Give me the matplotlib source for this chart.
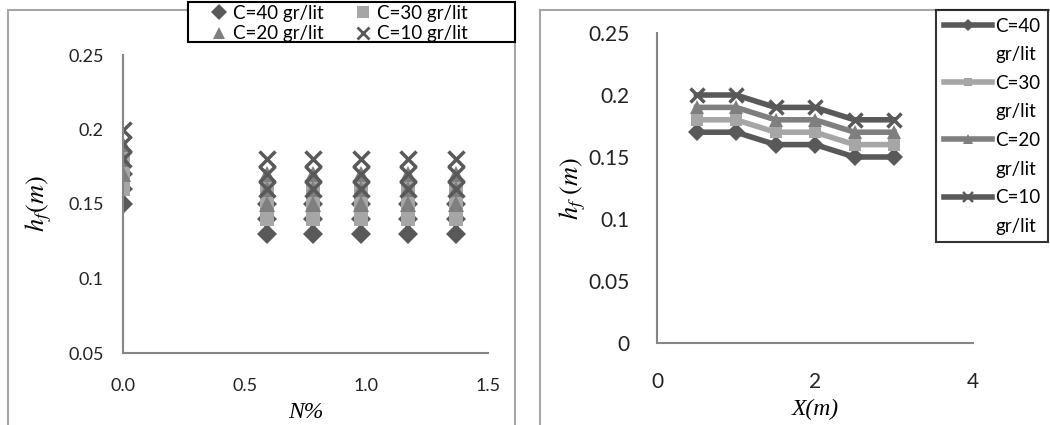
import matplotlib.pyplot as plt
import matplotlib.lines as mlines
from matplotlib.patches import Rectangle

plt.rcParams['font.family'] = ['Lato', 'DejaVu Sans']
plt.rcParams['mathtext.fontset'] = 'stix'

# --- data: left chart, h_f vs N% (three readings per N for each C) ---
n_values = [0.0, 0.59, 0.78, 0.98, 1.17, 1.37]
hf_n = {
    'C=40 gr/lit': [[0.15, 0.16, 0.17], [0.13, 0.14, 0.15], [0.13, 0.14, 0.15],
                    [0.13, 0.14, 0.15], [0.13, 0.14, 0.15], [0.13, 0.14, 0.15]],
    'C=30 gr/lit': [[0.16, 0.17, 0.18], [0.14, 0.15, 0.16], [0.14, 0.15, 0.16],
                    [0.14, 0.15, 0.16], [0.14, 0.15, 0.16], [0.14, 0.15, 0.16]],
    'C=20 gr/lit': [[0.17, 0.18, 0.19], [0.15, 0.16, 0.17], [0.15, 0.16, 0.17],
                    [0.15, 0.16, 0.17], [0.15, 0.16, 0.17], [0.15, 0.16, 0.17]],
    'C=10 gr/lit': [[0.18, 0.19, 0.20], [0.16, 0.17, 0.18], [0.16, 0.17, 0.18],
                    [0.16, 0.17, 0.18], [0.16, 0.17, 0.18], [0.16, 0.17, 0.18]],
}

# --- data: right chart, h_f vs X ---
x_pos = [0.5, 1.0, 1.5, 2.0, 2.5, 3.0]
hf_x = {
    'C=40 gr/lit': [0.17, 0.17, 0.16, 0.16, 0.15, 0.15],
    'C=30 gr/lit': [0.18, 0.18, 0.17, 0.17, 0.16, 0.16],
    'C=20 gr/lit': [0.19, 0.19, 0.18, 0.18, 0.17, 0.17],
    'C=10 gr/lit': [0.20, 0.20, 0.19, 0.19, 0.18, 0.18],
}

# style per series
styles = {
    'C=40 gr/lit': dict(marker='D', color='#595959', ms=10, mew=0),
    'C=30 gr/lit': dict(marker='s', color='#a6a6a6', ms=9.5, mew=0),
    'C=20 gr/lit': dict(marker='^', color='#7f7f7f', ms=11, mew=0),
    'C=10 gr/lit': dict(marker='x', color='#595959', ms=11, mew=2.5),
}

fig = plt.figure(figsize=(10.5, 4.25), dpi=100)
W, H = 1050, 425

# panel frames
fig.add_artist(Rectangle((8 / W, -0.05), (515 - 8) / W, 1.05 - 10 / H,
                         transform=fig.transFigure, fill=False, ec='#a6a6a6', lw=1.5))
fig.add_artist(Rectangle((540 / W, -0.05), 0.6, 1.05 - 10 / H,
                         transform=fig.transFigure, fill=False, ec='#a6a6a6', lw=1.5))

label_font = dict(fontsize=17, family='Liberation Serif', style='italic')


def clean_axes(ax, size):
    for s in ['top', 'right']:
        ax.spines[s].set_visible(False)
    for s in ['left', 'bottom']:
        ax.spines[s].set_color('#868686')
        ax.spines[s].set_linewidth(1.5)
    ax.tick_params(length=0, labelsize=size, colors='#222222')
    ax.tick_params(axis='x', pad=18)
    ax.tick_params(axis='y', pad=14)
    ax.set_facecolor('none')


# --- left chart ---
ax1 = fig.add_axes([123 / W, 1 - 353 / H, (488 - 123) / W, (353 - 55) / H])
for name, vals in hf_n.items():
    st = styles[name]
    for n, hs in zip(n_values, vals):
        ax1.plot([n] * len(hs), hs, linestyle='none', marker=st['marker'],
                 color=st['color'], ms=st['ms'], mew=st['mew'])
ax1.set_xlim(0, 1.5)
ax1.set_ylim(0.05, 0.25)
ax1.set_xticks([0.0, 0.5, 1.0, 1.5])
ax1.set_xticklabels(['0.0', '0.5', '1.0', '1.5'])
ax1.set_yticks([0.05, 0.1, 0.15, 0.2, 0.25])
ax1.set_yticklabels(['0.05', '0.1', '0.15', '0.2', '0.25'])
clean_axes(ax1, 13)
ax1.set_xlabel('N%', labelpad=6, **label_font)
ax1.set_ylabel(r'$h_f(m)$', fontsize=19, labelpad=10)

# left legend: its box is drawn by hand so it can be as wide as in the original
fig.add_artist(Rectangle((188 / W, 1 - 42 / H), (515 - 188) / W, 40 / H,
                         transform=fig.transFigure, fill=True, fc='white',
                         ec='black', lw=1.5, zorder=5))
handles1 = [mlines.Line2D([], [], linestyle='none', marker=styles[k]['marker'],
                          color=styles[k]['color'], ms=styles[k]['ms'] * 0.85,
                          mew=styles[k]['mew'] * 0.8) for k in hf_n]
names = list(hf_n)
order = [0, 2, 1, 3]
leg1 = fig.legend([handles1[i] for i in order], [names[i] for i in order], ncol=2,
                  loc='upper left', bbox_to_anchor=(208 / W, 1 - 1 / H), frameon=False,
                  fontsize=13.5, handlelength=0.8, handletextpad=0.35, columnspacing=1.7,
                  borderpad=0.2, labelspacing=0.2, borderaxespad=0)
leg1.set_zorder(6)

# --- right chart ---
ax2 = fig.add_axes([657 / W, 1 - 343 / H, (973 - 657) / W, (343 - 33) / H])
line_handles = []
for name, vals in hf_x.items():
    st = styles[name]
    ln, = ax2.plot(x_pos, vals, color=st['color'], lw=4, marker=st['marker'],
                   ms=st['ms'] * 0.9, mew=st['mew'])
    line_handles.append(ln)
ax2.set_xlim(0, 4)
ax2.set_ylim(0, 0.25)
ax2.set_xticks([0, 2, 4])
ax2.set_yticks([0, 0.05, 0.1, 0.15, 0.2, 0.25])
ax2.set_yticklabels(['0', '0.05', '0.1', '0.15', '0.2', '0.25'])
clean_axes(ax2, 15)
ax2.tick_params(axis='x', pad=21)
ax2.tick_params(axis='y', pad=20)
ax2.set_xlabel('X(m)', labelpad=5, **label_font)
ax2.set_ylabel(r'$h_f\ (m)$', fontsize=19, labelpad=0)

# legend text is wrapped over two lines; the handle sits on the first line
blank = mlines.Line2D([], [], linestyle='none', marker='none')
leg_handles, leg_labels = [], []
for name, ln in zip(hf_x, line_handles):
    top, bottom = name.split(' ')
    leg_handles += [mlines.Line2D([], [], color=ln.get_color(), lw=4,
                                  marker=ln.get_marker(), ms=ln.get_markersize() * 0.7,
                                  mew=ln.get_markeredgewidth() * 0.7), blank]
    leg_labels += [top, bottom]
leg2 = fig.legend(leg_handles, leg_labels, loc='upper left',
                  bbox_to_anchor=(936 / W, 1 - 10 / H), frameon=True, fontsize=13.5,
                  handlelength=2.6, handletextpad=0.15, borderpad=0.4, labelspacing=0.62,
                  borderaxespad=0, fancybox=False)
leg2.get_frame().set_edgecolor('black')
leg2.get_frame().set_linewidth(1.5)

fig.savefig('out.png', dpi=100)
